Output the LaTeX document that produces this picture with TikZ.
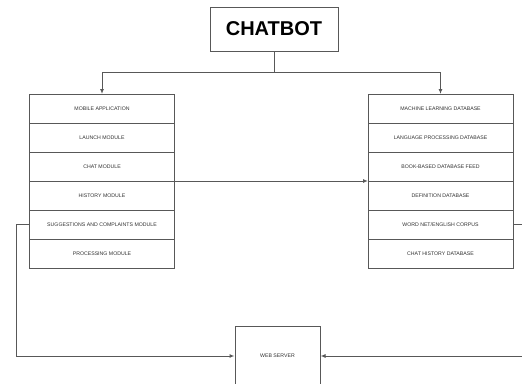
\documentclass[tikz,border=0pt]{standalone}
\usepackage{fontspec}
\setmainfont{Liberation Sans}
\usepackage{xcolor}
\definecolor{edge}{HTML}{585858}
\definecolor{ink}{HTML}{303030}
\usepackage{tikz}
\usetikzlibrary{arrows.meta, positioning}

\tikzset{
  row/.style={draw=edge, line width=1pt, minimum width=145pt, minimum height=29pt,
    inner sep=0pt, outer sep=0pt, text=ink, font=\fontsize{5.2}{6}\selectfont},
  arr/.style={draw=edge, line width=1pt, -{Latex[length=5pt,width=4pt]}},
  link/.style={draw=edge, line width=1pt}
}

\begin{document}
\begin{tikzpicture}[x=1pt, y=-1pt]
  \clip (0,0) rectangle (522,383);

  % Title box
  \node[draw=edge, line width=1pt, minimum width=128pt, minimum height=44pt, text=black,
    font=\fontsize{20}{24}\selectfont\bfseries] (chatbot) at (274,29) {CHATBOT};
  \coordinate (split) at (274,72);

  % Left stack - application modules
  \node[row] (mobile)   at (102,108.5) {MOBILE APPLICATION};
  \node[row] (launch)   at (102,137.5) {LAUNCH MODULE};
  \node[row] (chat)     at (102,166.5) {CHAT MODULE};
  \node[row] (history)  at (102,195.5) {HISTORY MODULE};
  \node[row] (suggest)  at (102,224.5) {SUGGESTIONS AND COMPLAINTS MODULE};
  \node[row] (process)  at (102,253.5) {PROCESSING MODULE};

  % Right stack - databases
  \node[row] (mldb)     at (440.5,108.5) {MACHINE LEARNING DATABASE};
  \node[row] (langdb)   at (440.5,137.5) {LANGUAGE PROCESSING DATABASE};
  \node[row] (bookdb)   at (440.5,166.5) {BOOK-BASED DATABASE FEED};
  \node[row] (defdb)    at (440.5,195.5) {DEFINITION DATABASE};
  \node[row] (wordnet)  at (440.5,224.5) {WORD NET/ENGLISH CORPUS};
  \node[row] (histdb)   at (440.5,253.5) {CHAT HISTORY DATABASE};

  % Web server, cut off at the bottom
  \node[draw=edge, line width=1pt, minimum width=85pt, minimum height=60pt, inner sep=0pt,
    text=ink, font=\fontsize{5.2}{6}\selectfont] (web) at (277.5,356) {WEB SERVER};

  % Connectors
  \draw[link] (chatbot.south) -- (split);
  \draw[arr] (split) -| (mobile.north);
  \draw[arr] (split) -| (mldb.north);
  \draw[arr] (chat.south east) -- (defdb.north west);

  \coordinate (lbend) at (16,224.5);
  \coordinate (rbend) at (530,224.5);
  \draw[arr] (suggest.west) -- (lbend) |- (web.west);
  \draw[arr] (wordnet.east) -- (rbend) |- (web.east);
\end{tikzpicture}
\end{document}
